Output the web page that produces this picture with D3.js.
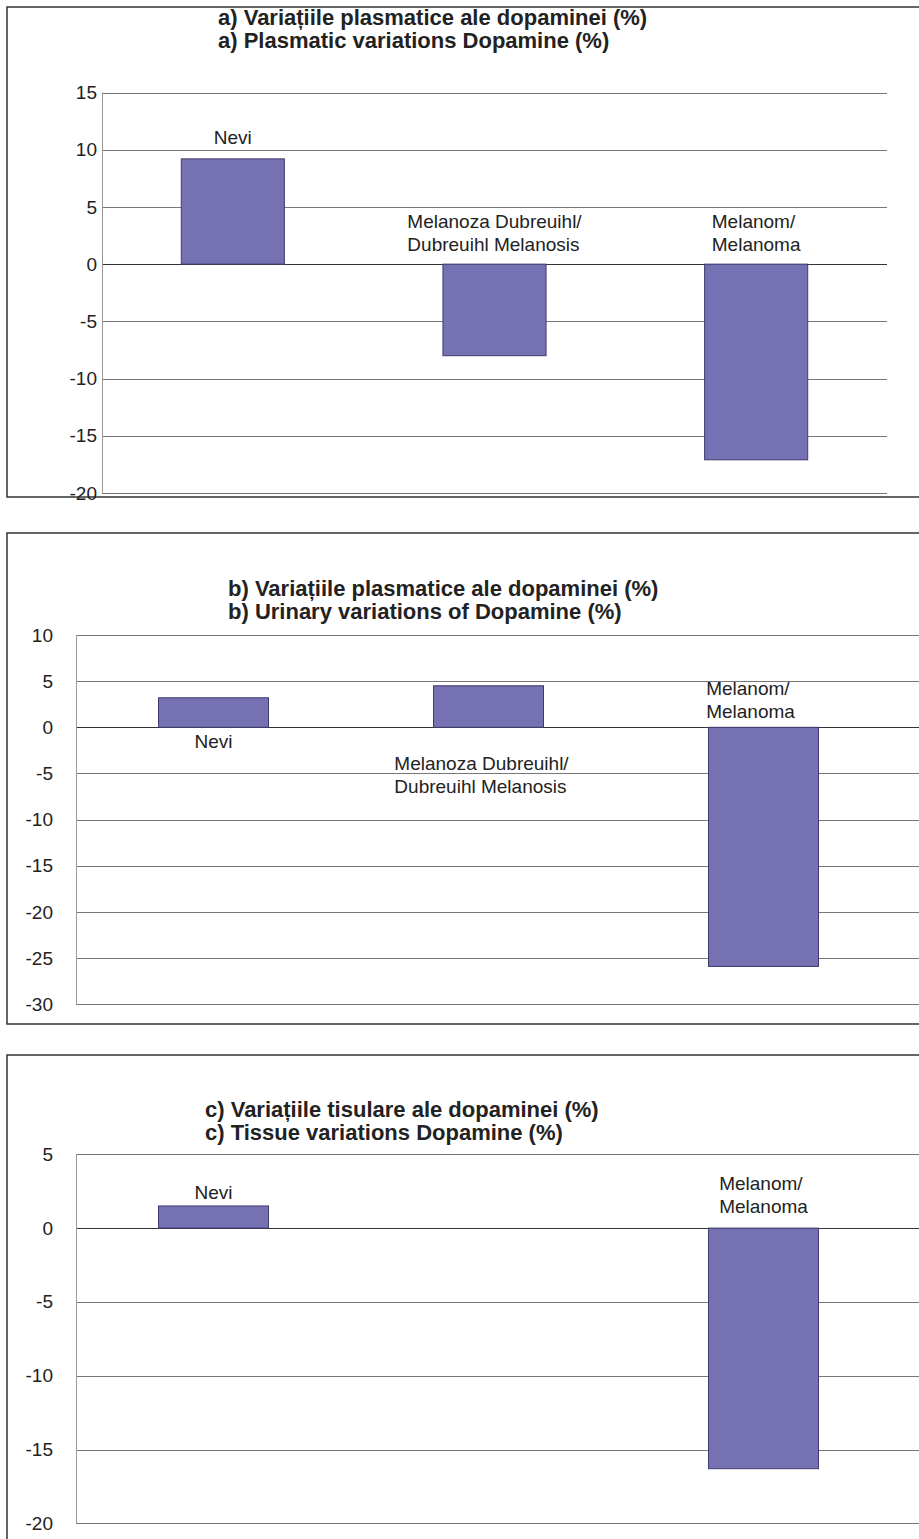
<!DOCTYPE html>
<html>
<head>
<meta charset="utf-8">
<script src="https://cdn.jsdelivr.net/npm/d3@7"></script>
<style>
  body { margin: 0; background: #fff; }
  svg { display: block; }
  text { font-family: Arial, "Liberation Sans", sans-serif; fill: #222; }
</style>
</head>
<body>
<svg id="chart"></svg>
<script>
// categories (label lines) shared by the three panels
const categoryLines = [
    ['Nevi'],
    ['Melanoza Dubreuihl/', 'Dubreuihl Melanosis'],
    ['Melanom/', 'Melanoma']
];
const categories = ['Nevi', 'Melanoza Dubreuihl', 'Melanom'];

// a) plasma
const plasmaTitle = ['a) Variațiile plasmatice ale dopaminei (%)', 'a) Plasmatic variations Dopamine (%)'];
const plasmaValues = [9.2, -8.0, -17.1];
const plasmaTicks = [15, 10, 5, 0, -5, -10, -15, -20];

// b) urinary
const urinaryTitle = ['b) Variațiile plasmatice ale dopaminei (%)', 'b) Urinary variations of Dopamine (%)'];
const urinaryValues = [3.2, 4.5, -25.9];
const urinaryTicks = [10, 5, 0, -5, -10, -15, -20, -25, -30];

// c) tissue (no value for Dubreuihl melanosis)
const tissueTitle = ['c) Variațiile tisulare ale dopaminei (%)', 'c) Tissue variations Dopamine (%)'];
const tissueValues = [1.5, null, -16.3];
const tissueTicks = [5, 0, -5, -10, -15, -20];

const W = 919, H = 1539;
const svg = d3.select('#chart').attr('width', W).attr('height', H);

function drawPanel(cfg){
    const g = svg.append('g');

    // outer frame
    g.append('rect')
        .attr('x', cfg.frame.x).attr('y', cfg.frame.y)
        .attr('width', cfg.frame.w).attr('height', cfg.frame.h)
        .attr('fill', 'none').attr('stroke', '#333').attr('stroke-width', 1.5);

    // title
    g.append('text')
        .attr('x', cfg.titleX).attr('y', cfg.titleY)
        .style('font-size', '22px').style('font-weight', 'bold')
        .selectAll('tspan')
        .data(cfg.title)
        .join('tspan')
        .attr('x', cfg.titleX)
        .attr('dy', (d, i) => i === 0 ? 0 : 23)
        .text(d => d);

    const y = d3.scaleLinear()
        .domain(d3.extent(cfg.ticks))
        .range([cfg.plot.bottom, cfg.plot.top]);

    const x = d3.scaleBand()
        .domain(categories)
        .range([cfg.plot.left, cfg.bandRight])
        .paddingInner(cfg.pad)
        .paddingOuter(cfg.pad / 2);

    // gridlines
    g.selectAll('.grid')
        .data(cfg.ticks)
        .join('line')
        .attr('x1', cfg.plot.left).attr('x2', cfg.plot.right)
        .attr('y1', d => Math.round(y(d)) + 0.5).attr('y2', d => Math.round(y(d)) + 0.5)
        .attr('stroke', d => d === 0 ? '#333' : '#777')
        .attr('stroke-width', 1.2);

    // plot area left edge
    g.append('line')
        .attr('x1', cfg.plot.left + 0.5).attr('x2', cfg.plot.left + 0.5)
        .attr('y1', cfg.plot.top).attr('y2', cfg.plot.bottom)
        .attr('stroke', '#999');

    // y axis labels (plain hyphen for negatives, as in the original)
    const axis = d3.axisLeft(y)
        .tickValues(cfg.ticks)
        .tickSize(0)
        .tickPadding(cfg.tickPad)
        .tickFormat(d => String(d));
    const ax = g.append('g')
        .attr('transform', `translate(${cfg.plot.left},0)`)
        .call(axis);
    ax.select('.domain').remove();
    ax.selectAll('text')
        .style('font-size', '19px')
        .style('font-family', 'Arial, "Liberation Sans", sans-serif')
        .attr('fill', '#222');

    const rows = categories.map((c, i) => ({cat: c, value: cfg.values[i], lines: categoryLines[i], lab: cfg.labels[i]}))
        .filter(d => d.value !== null);

    // bars
    g.selectAll('.bar')
        .data(rows)
        .join('rect')
        .attr('x', d => x(d.cat))
        .attr('width', x.bandwidth())
        .attr('y', d => y(Math.max(0, d.value)))
        .attr('height', d => Math.abs(y(d.value) - y(0)))
        .attr('fill', '#7571b2')
        .attr('stroke', '#3e3b6e')
        .attr('stroke-width', 1);

    // category labels
    rows.forEach(d => {
        const cx = x(d.cat) + x.bandwidth() / 2 + (d.lab.dx || 0);
        const refY = d.lab.ref === 'bar' ? y(Math.max(0, d.value)) : y(0);
        const t = g.append('text')
            .style('font-size', '19px')
            .attr('y', refY + d.lab.dy)
            .attr('dominant-baseline', 'central');
        const spans = t.selectAll('tspan')
            .data(d.lines)
            .join('tspan')
            .attr('dy', (l, i) => i === 0 ? 0 : 23)
            .text(l => l);
        if (d.lines.length === 1) {
            t.attr('text-anchor', 'middle');
            spans.attr('x', cx);
        } else {
            let maxW = 0;
            spans.each(function(){ maxW = Math.max(maxW, this.getComputedTextLength()); });
            spans.attr('x', cx - maxW / 2);
        }
    });
}

drawPanel({
    frame: {x: 7, y: 7, w: 1000, h: 490},
    title: plasmaTitle, titleX: 218, titleY: 25,
    plot: {left: 102, right: 887, top: 92.5, bottom: 493},
    bandRight: 887, pad: 0.606, tickPad: 5,
    ticks: plasmaTicks, values: plasmaValues,
    labels: [{ref: 'bar', dy: -22}, {ref: 'zero', dy: -43}, {ref: 'zero', dy: -43}]
});

drawPanel({
    frame: {x: 7, y: 533, w: 1000, h: 491},
    title: urinaryTitle, titleX: 228, titleY: 596,
    plot: {left: 76, right: 930, top: 635, bottom: 1004.3},
    bandRight: 901, pad: 0.6, tickPad: 23,
    ticks: urinaryTicks, values: urinaryValues,
    labels: [{ref: 'zero', dy: 14}, {ref: 'zero', dy: 36, dx: -7}, {ref: 'zero', dy: -39, dx: -13}]
});

drawPanel({
    frame: {x: 7, y: 1055, w: 1000, h: 600},
    title: tissueTitle, titleX: 205, titleY: 1117,
    plot: {left: 76, right: 930, top: 1154.3, bottom: 1523.3},
    bandRight: 901, pad: 0.6, tickPad: 23,
    ticks: tissueTicks, values: tissueValues,
    labels: [{ref: 'bar', dy: -14}, null, {ref: 'zero', dy: -45}]
});
</script>
</body>
</html>
